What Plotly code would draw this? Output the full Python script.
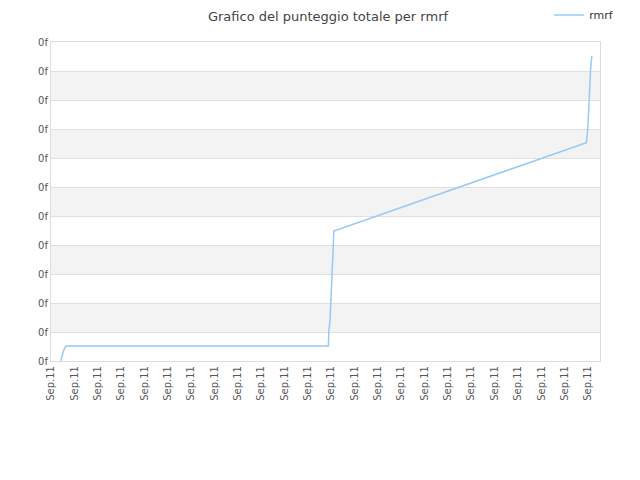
import plotly.graph_objects as go

# punteggio totale di rmrf nel corso della giornata
times = ["2011-09-11 00:25", "2011-09-11 00:32", "2011-09-11 00:38",
         "2011-09-11 11:53", "2011-09-11 11:54", "2011-09-11 11:57",
         "2011-09-11 11:59", "2011-09-11 12:03", "2011-09-11 12:05",
         "2011-09-11 12:07", "2011-09-11 22:56", "2011-09-11 22:59",
         "2011-09-11 23:02", "2011-09-11 23:04", "2011-09-11 23:07",
         "2011-09-11 23:10"]
score = [0.0, 0.35, 0.52,
         0.52, 1.03, 1.38,
         1.97, 3.52, 4.0,
         4.48, 7.53, 7.93,
         8.62, 9.31, 10.11,
         10.52]

y_ticks = list(range(0, 12))
y_labels = ["0f"] * len(y_ticks)
x_ticks = ["2011-09-11 %02d:00" % h for h in range(24)]
x_range = ["2011-09-11 00:00", "2011-09-11 23:31"]

fig = go.Figure()
fig.add_trace(go.Scatter(x=times, y=score, mode="lines", name="rmrf",
                         line=dict(color="#99c8f5", width=1.5)))

# bande grigie alternate
for lo in y_ticks[1:-1:2]:
    fig.add_shape(type="rect", xref="paper", yref="y", x0=0, x1=1, y0=lo, y1=lo + 1,
                  fillcolor="#f3f3f3", line_width=0, layer="below")

fig.update_layout(
    width=640, height=480,
    margin=dict(l=43, r=48, t=34, b=127, autoexpand=False),
    paper_bgcolor="white", plot_bgcolor="white",
    font=dict(family="DejaVu Sans", size=10, color="#555"),
    title=dict(text="Grafico del punteggio totale per rmrf", x=0.5, xanchor="center",
               yref="container", y=0.982, yanchor="middle",
               font=dict(size=13, color="#444")),
    showlegend=True,
    legend=dict(x=1.035, xanchor="right", y=1.085, yanchor="middle",
                font=dict(size=11, color="#333"), bgcolor="rgba(0,0,0,0)"),
    xaxis=dict(type="date", range=x_range, tickvals=x_ticks, tickformat="%b.%d",
               tickangle=-90, showgrid=False, showline=True, linecolor="#ddd",
               mirror=True, zeroline=False, ticks="", tickfont=dict(size=10)),
    yaxis=dict(range=[0, 11], tickvals=y_ticks, ticktext=y_labels, showgrid=True,
               gridcolor="#e0e0e0", showline=True, linecolor="#ddd", mirror=True,
               zeroline=False, ticks="", tickfont=dict(size=10)),
)

fig.write_html("out.html")
